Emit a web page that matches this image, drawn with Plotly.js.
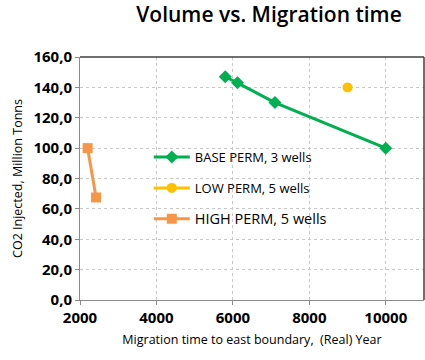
<!DOCTYPE html>
<html><head><meta charset="utf-8">
<script src="https://cdn.plot.ly/plotly-3.0.1.min.js"></script>
<style>html,body{margin:0;padding:0;background:#fff}#c{width:425px;height:360px}</style>
</head><body><div id="c"></div>
<script>
const baseX = [5800, 6120, 7100, 10000];
const baseY = [147, 143, 130, 100];
const lowX = [9000];
const lowY = [140];
const highX = [2200, 2420];
const highY = [100, 67.5];
const names = ["BASE PERM, 3 wells", "LOW PERM, 5 wells", "<span style='font-size:14.5px'>HIGH PERM, 5 wells</span>"];
const xTicks = [2000, 4000, 6000, 8000, 10000];
const yTicks = [0, 20, 40, 60, 80, 100, 120, 140, 160];
const yTickText = yTicks.map(v => v.toFixed(1).replace('.', ','));

const F = "'Open Sans', sans-serif";
const data = [
  {x: baseX, y: baseY, name: names[0], legendgroup: 'a', mode: 'lines+markers', line: {color: '#00b050', width: 3}, marker: {symbol: 'diamond', size: 10, color: '#00b050'}},
  {x: lowX, y: lowY, name: names[1], legendgroup: 'b', mode: 'lines+markers', line: {color: '#ffc000', width: 3}, marker: {symbol: 'circle', size: 10, color: '#ffc000'}},
  {x: highX, y: highY, name: names[2], legendgroup: 'c', mode: 'lines+markers', line: {color: '#f79646', width: 3}, marker: {symbol: 'square', size: 10, color: '#f79646'}}
];
const layout = {
  width: 425, height: 360,
  margin: {l: 80, r: 1, t: 57, b: 60},
  paper_bgcolor: '#fff', plot_bgcolor: '#fff',
  font: {family: F, color: '#000'},
  title: {text: 'Volume vs. Migration time', font: {family: F, size: 21, color: '#000', weight: 600}, x: 0.633, xanchor: 'center', y: 0.958, yanchor: 'middle'},
  xaxis: {range: [2000, 11000], tickvals: xTicks, ticktext: xTicks.map(String),
    tickfont: {size: 15, family: F, color: '#000', weight: 'bold'},
    showgrid: true, gridcolor: '#c8c8c8', griddash: 'dot', gridwidth: 1,
    showline: true, linecolor: '#8c8c8c', mirror: false, ticks: 'outside', ticklen: 4, tickcolor: '#8c8c8c',
    zeroline: false,
    title: {text: 'Migration time to east boundary,  (Real) Year', font: {size: 12.5, family: F, color: '#000'}, standoff: 9}},
  yaxis: {range: [0, 160], tickvals: yTicks, ticktext: yTickText,
    tickfont: {size: 15, family: F, color: '#000', weight: 'bold'},
    showgrid: true, gridcolor: '#c8c8c8', griddash: 'dot', gridwidth: 1,
    showline: true, linecolor: '#8c8c8c', mirror: false, ticks: 'outside', ticklen: 4, tickcolor: '#8c8c8c',
    zeroline: false,
    title: {text: 'CO2 Injected, Million Tonns', font: {size: 12.5, family: F, color: '#000'}, standoff: 8}},
  shapes: [
    {type: 'line', xref: 'paper', yref: 'paper', x0: 0, x1: 1, y0: 1, y1: 1, line: {color: '#404040', width: 1.5}},
    {type: 'line', xref: 'paper', yref: 'paper', x0: 1, x1: 1, y0: 0, y1: 1, line: {color: '#404040', width: 1.5}}
  ],
  legend: {x: 0.2, y: 0.65, xanchor: 'left', yanchor: 'top', bgcolor: 'rgba(0,0,0,0)', font: {size: 13, family: F, color: '#000'}, traceorder: 'grouped', tracegroupgap: 11, itemwidth: 36},
  showlegend: true
};
Plotly.newPlot('c', data, layout, {displayModeBar: false, staticPlot: true});
</script></body></html>
